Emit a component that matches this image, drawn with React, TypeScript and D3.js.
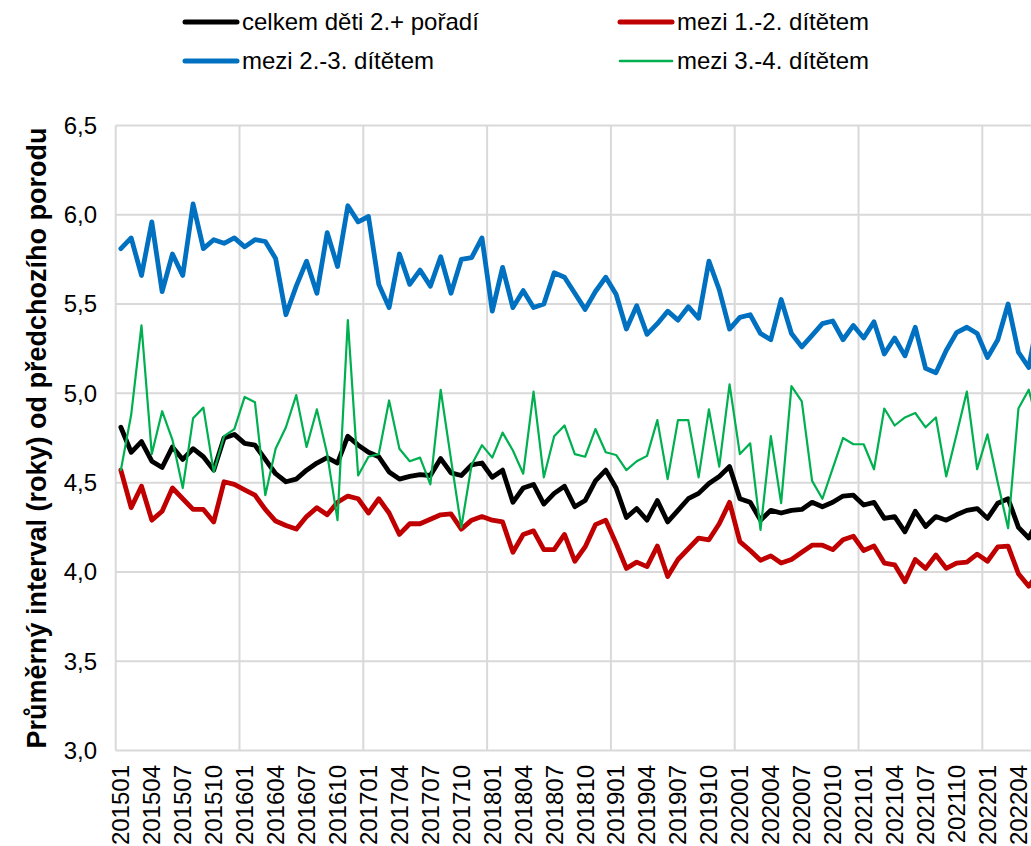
import React from "react";
import * as d3 from "d3";

// Categories: monthly codes 201501 .. 202206 (last ones are cut by the right edge)
const years = [2015, 2016, 2017, 2018, 2019, 2020, 2021, 2022];
const monthCodes: string[] = [];
years.forEach((y) => {
  for (let m = 1; m <= 12; m++) monthCodes.push(`${y}${String(m).padStart(2, "0")}`);
});
const categories: string[] = monthCodes.slice(0, 90);

const celkem: number[] = [
  4.81, 4.67, 4.73, 4.62, 4.585, 4.70, 4.63, 4.69, 4.645, 4.57, 4.75, 4.77,
  4.72, 4.71, 4.63, 4.55, 4.505, 4.52, 4.57, 4.61, 4.64, 4.61, 4.76, 4.71,
  4.67, 4.645, 4.56, 4.52, 4.535, 4.545, 4.54, 4.635, 4.555, 4.54, 4.60, 4.61,
  4.53, 4.57, 4.39, 4.47, 4.49, 4.38, 4.44, 4.48, 4.365, 4.40, 4.51, 4.57,
  4.47, 4.305, 4.355, 4.29, 4.40, 4.28, 4.345, 4.41, 4.44, 4.495, 4.535, 4.59,
  4.41, 4.39, 4.29, 4.345, 4.33, 4.345, 4.35, 4.39, 4.365, 4.39, 4.425, 4.43,
  4.375, 4.39, 4.30, 4.31, 4.225, 4.34, 4.255, 4.31, 4.29, 4.32, 4.345, 4.355,
  4.30, 4.385, 4.41, 4.25, 4.19, 4.30,
];

const mezi12: number[] = [
  4.57, 4.36, 4.48, 4.29, 4.34, 4.47, 4.41, 4.35, 4.35, 4.28, 4.505, 4.49,
  4.46, 4.43, 4.35, 4.285, 4.26, 4.24, 4.31, 4.36, 4.32, 4.39, 4.425, 4.41,
  4.33, 4.41, 4.33, 4.21, 4.27, 4.27, 4.295, 4.32, 4.325, 4.24, 4.29, 4.31,
  4.29, 4.28, 4.11, 4.21, 4.23, 4.125, 4.125, 4.21, 4.06, 4.14, 4.265, 4.29,
  4.16, 4.02, 4.055, 4.03, 4.145, 3.975, 4.07, 4.13, 4.19, 4.18, 4.27, 4.39,
  4.17, 4.12, 4.065, 4.09, 4.05, 4.07, 4.11, 4.15, 4.15, 4.125, 4.18, 4.20,
  4.12, 4.145, 4.05, 4.04, 3.945, 4.07, 4.02, 4.095, 4.02, 4.05, 4.055, 4.10,
  4.06, 4.14, 4.145, 3.99, 3.92, 4.00,
];

const mezi23: number[] = [
  5.81, 5.87, 5.66, 5.96, 5.57, 5.78, 5.66, 6.06, 5.81, 5.86, 5.84, 5.87,
  5.82, 5.86, 5.85, 5.755, 5.44, 5.60, 5.74, 5.56, 5.90, 5.71, 6.05, 5.96,
  5.99, 5.61, 5.48, 5.78, 5.61, 5.69, 5.60, 5.765, 5.56, 5.75, 5.76, 5.87,
  5.46, 5.705, 5.48, 5.575, 5.48, 5.50, 5.675, 5.65, 5.56, 5.47, 5.57, 5.65,
  5.555, 5.36, 5.49, 5.33, 5.39, 5.46, 5.41, 5.485, 5.42, 5.74, 5.58, 5.36,
  5.425, 5.44, 5.335, 5.30, 5.525, 5.335, 5.26, 5.325, 5.39, 5.405, 5.30, 5.38,
  5.31, 5.40, 5.22, 5.31, 5.21, 5.37, 5.14, 5.115, 5.24, 5.34, 5.37, 5.335,
  5.20, 5.30, 5.50, 5.23, 5.145, 5.45,
];

const mezi34: number[] = [
  4.57, 4.88, 5.38, 4.66, 4.90, 4.74, 4.47, 4.86, 4.92, 4.56, 4.76, 4.80,
  4.98, 4.95, 4.43, 4.69, 4.81, 4.99, 4.70, 4.91, 4.66, 4.29, 5.41, 4.54,
  4.645, 4.66, 4.96, 4.69, 4.62, 4.64, 4.49, 5.02, 4.63, 4.25, 4.60, 4.71,
  4.64, 4.78, 4.68, 4.55, 5.01, 4.53, 4.76, 4.82, 4.66, 4.645, 4.80, 4.67,
  4.655, 4.57, 4.62, 4.65, 4.85, 4.52, 4.85, 4.85, 4.53, 4.91, 4.59, 5.05,
  4.66, 4.72, 4.235, 4.76, 4.385, 5.04, 4.955, 4.51, 4.41, 4.58, 4.75, 4.715,
  4.715, 4.575, 4.915, 4.82, 4.865, 4.89, 4.81, 4.865, 4.535, 4.77, 5.01, 4.575,
  4.77, 4.50, 4.245, 4.915, 5.02, 4.80,
];

const seriesNames: string[] = [
  "celkem děti 2.+ pořadí",
  "mezi 1.-2. dítětem",
  "mezi 2.-3. dítětem",
  "mezi 3.-4. dítětem",
];
const seriesColors: string[] = ["#000000", "#C00000", "#0070C0", "#00B050"];
const seriesWidths: number[] = [4.8, 4.8, 4.8, 2.2];
const seriesValues: number[][] = [celkem, mezi12, mezi23, mezi34];

const yTicks: number[] = [3.0, 3.5, 4.0, 4.5, 5.0, 5.5, 6.0, 6.5];
const yTitle = "Průměrný interval (roky) od předchozího porodu";

const W = 1031;
const H = 846;
const plotLeft = 115.7;
const monthStep = 10.317;
const plotTop = 125.4;
const plotBottom = 750.6;

export default function App() {
  const x = d3
    .scaleBand<string>()
    .domain(categories)
    .range([plotLeft, plotLeft + categories.length * monthStep])
    .paddingInner(0)
    .paddingOuter(0);
  const bw = x.bandwidth();
  const cx = (c: string) => (x(c) as number) + bw / 2;
  const y = d3.scaleLinear().domain([3, 6.5]).range([plotBottom, plotTop]);
  const plotRight = plotLeft + categories.length * monthStep;

  const fmt = (v: number) => d3.format(".1f")(v).replace(".", ",");
  const font = "'Liberation Sans', Arial, sans-serif";

  const legendItems = seriesNames.map((name, i) => ({
    name,
    color: seriesColors[i],
    width: i === 3 ? 2.6 : 5,
    col: i % 2,
    row: Math.floor(i / 2),
  }));

  return (
    <svg
      width={W}
      height={H}
      style={{ position: "absolute", left: 0, top: 0, display: "block", background: "#fff" }}
      fontFamily={font}
    >
      <rect x={0} y={0} width={W} height={H} fill="#fff" />
      {/* horizontal gridlines */}
      {yTicks.map((t) => (
        <line
          key={"h" + t}
          x1={plotLeft}
          x2={plotRight}
          y1={y(t)}
          y2={y(t)}
          stroke="#d9d9d9"
          strokeWidth={2}
        />
      ))}
      {/* vertical gridlines at each January */}
      {categories
        .filter((c) => c.endsWith("01"))
        .map((c) => (
          <line
            key={"v" + c}
            x1={x(c) as number}
            x2={x(c) as number}
            y1={plotTop}
            y2={plotBottom}
            stroke="#d9d9d9"
            strokeWidth={2}
          />
        ))}
      {/* y tick labels */}
      {yTicks.map((t) => (
        <text
          key={"yl" + t}
          x={97}
          y={y(t)}
          dy="0.35em"
          textAnchor="end"
          fontSize={24}
          fill="#000"
        >
          {fmt(t)}
        </text>
      ))}
      {/* x tick labels */}
      {categories
        .filter((_, i) => i % 3 === 0)
        .map((c) => (
          <text
            key={"xl" + c}
            transform={`translate(${cx(c)},765) rotate(-90)`}
            dy="0.35em"
            textAnchor="end"
            fontSize={24}
            fill="#000"
          >
            {c}
          </text>
        ))}
      {/* y axis title */}
      <text
        transform={`translate(37,${(plotTop + plotBottom) / 2}) rotate(-90)`}
        textAnchor="middle"
        dy="0.35em"
        fontSize={27}
        fontWeight="bold"
        fill="#000"
      >
        {yTitle}
      </text>
      {/* series */}
      {seriesValues.map((vals, si) => {
        const line = d3
          .line<number>()
          .x((_, i) => cx(categories[i]))
          .y((d) => y(d));
        return (
          <path
            key={"s" + si}
            d={line(vals) || ""}
            fill="none"
            stroke={seriesColors[si]}
            strokeWidth={seriesWidths[si]}
            strokeLinejoin="round"
            strokeLinecap="round"
          />
        );
      })}
      {/* legend */}
      {legendItems.map((it) => {
        const lx = it.col === 0 ? 185 : 620;
        const ly = it.row === 0 ? 22 : 61;
        return (
          <g key={"lg" + it.name}>
            <line
              x1={lx}
              x2={lx + 52}
              y1={ly}
              y2={ly}
              stroke={it.color}
              strokeWidth={it.width}
              strokeLinecap="round"
            />
            <text x={lx + 57} y={ly} dy="0.35em" fontSize={24} fill="#000">
              {it.name}
            </text>
          </g>
        );
      })}
    </svg>
  );
}
